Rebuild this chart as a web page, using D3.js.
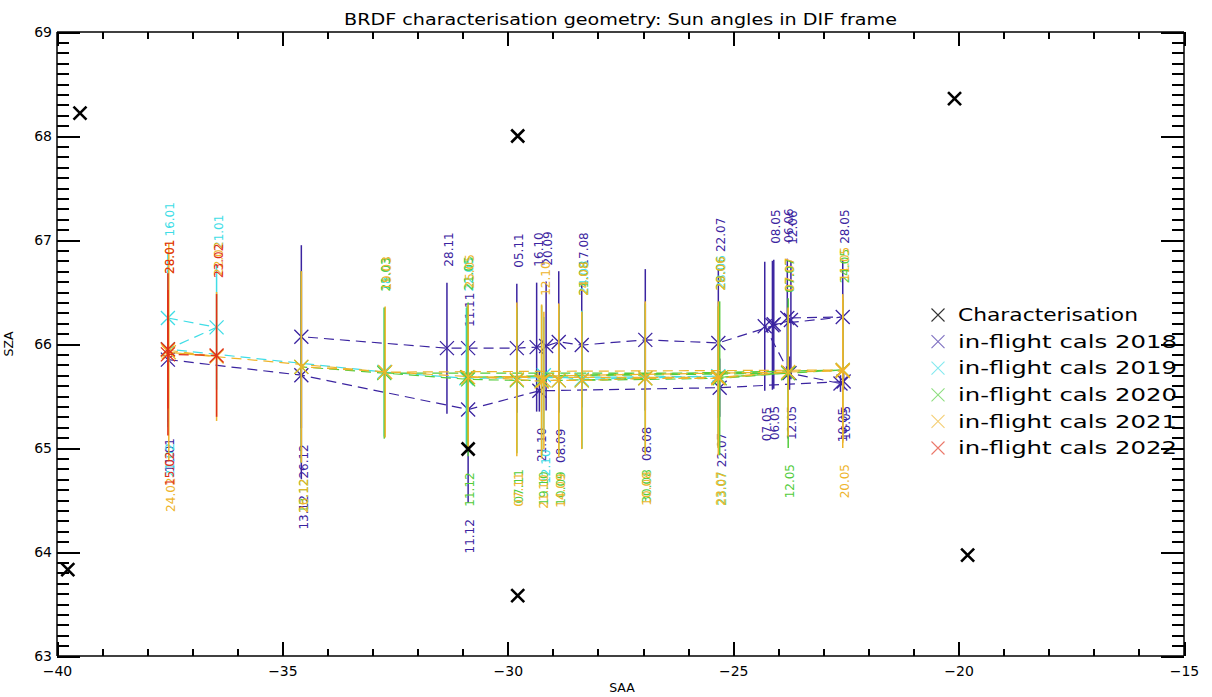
<!DOCTYPE html>
<html><head><meta charset="utf-8">
<script src="https://cdn.jsdelivr.net/npm/d3@7"></script>
<style>
body{margin:0;background:#fff;}
svg{display:block;}
text{font-family:"DejaVu Sans",sans-serif;}
</style>
</head><body>
<svg id="c" width="1212" height="697"></svg>
<script>
// ---------------- DATA ----------------
const titleText = "BRDF characterisation geometry: Sun angles in DIF frame";
const xLabel = "SAA";
const yLabel = "SZA";
const xTicksMajor = [-40, -35, -30, -25, -20, -15];
const yTicksMajor = [63, 64, 65, 66, 67, 68, 69];

// Characterisation geometry (black crosses)
const charSAA = [-39.49, -39.76, -29.78, -29.78, -30.88, -20.09, -19.80];
const charSZA = [68.22, 63.83, 68.00, 63.58, 64.99, 68.36, 63.97];

// in-flight cals 2018
const date2018 = ["11.01","13.12","11.12","21.10","22.07","16.05","10.05","12.05","07.05","06.05","08.05","28.05","06.06","12.06","22.07","08.08","17.08","08.09","20.09","16.10","05.11","11.11","28.11","26.12"];
const saa2018  = [-37.54,-34.58,-30.88,-29.30,-25.30,-22.55,-22.62,-23.75,-24.30,-24.13,-24.10,-22.57,-23.80,-23.72,-25.33,-26.95,-28.36,-28.87,-29.15,-29.36,-29.80,-30.88,-31.35,-34.58];
const sza2018  = [65.85,65.70,65.37,65.55,65.58,65.64,65.62,65.72,66.17,66.18,66.19,66.26,66.25,66.23,66.01,66.04,65.99,66.02,65.98,65.97,65.96,65.96,65.96,66.07];
const err2018  = [0.60,1.00,0.90,0.20,0.28,0.08,0.08,0.16,0.62,0.62,0.62,0.55,0.57,0.57,0.72,0.68,0.60,0.68,0.62,0.62,0.62,0.05,0.63,0.88];
const side2018 = ["b","b","b","b","b","b","b","b","b","b","t","t","t","t","t","b","t","b","t","t","t","t","t","b"];

// in-flight cals 2019
const date2019 = ["16.01","21.01","21.02","18.03","22.05","28.06","24.08","12.10"];
const saa2019  = [-37.54,-36.46,-37.54,-32.74,-30.92,-25.33,-28.36,-29.20];
const sza2019  = [66.25,66.16,65.95,65.73,65.67,65.69,65.66,65.70];
const err2019  = [0.63,0.60,0.75,0.62,0.68,0.68,0.66,0.56];
const side2019 = ["t","t","b","t","t","t","t","b"];

// in-flight cals 2020
const date2020 = ["21.03","12.05","21.05","24.05","29.06","07.07","23.07","21.08","30.08","10.09","19.10","07.11","11.12","13.12"];
const saa2020  = [-32.74,-23.78,-30.90,-22.57,-25.33,-23.78,-25.30,-28.36,-26.95,-28.87,-29.25,-29.80,-30.88,-34.58];
const sza2020  = [65.72,65.72,65.68,65.75,65.68,65.72,65.67,65.65,65.67,65.65,65.65,65.65,65.66,65.78];
const err2020  = [0.63,0.72,0.68,0.68,0.68,0.62,0.74,0.66,0.72,0.72,0.72,0.70,0.74,0.92];
const side2020 = ["t","b","t","t","t","t","b","t","b","b","b","b","b","b"];

// in-flight cals 2021
const date2021 = ["28.01","22.02","24.02","19.03","11.05","20.05","25.05","28.06","07.07","23.07","10.08","24.08","14.09","12.10","21.10","07.11","26.12"];
const saa2021  = [-37.54,-36.46,-37.52,-32.72,-22.57,-22.57,-30.88,-25.33,-23.78,-25.33,-26.95,-28.36,-28.87,-29.20,-29.25,-29.80,-34.58];
const sza2021  = [65.94,65.88,65.92,65.73,65.75,65.74,65.68,65.68,65.73,65.67,65.67,65.65,65.65,65.65,65.64,65.66,65.78];
const err2021  = [0.58,0.62,1.05,0.63,0.70,0.74,0.70,0.68,0.62,0.74,0.74,0.66,0.74,0.66,0.74,0.74,0.92];
const side2021 = ["t","t","b","t","t","b","t","t","t","b","b","t","b","t","b","b","b"];

// in-flight cals 2022
const date2022 = ["28.01","15.02","23.02"];
const saa2022  = [-37.54,-37.54,-36.46];
const sza2022  = [65.95,65.90,65.89];
const err2022  = [0.57,0.78,0.59];
const side2022 = ["t","b","t"];

const legendLabels = ["Characterisation","in-flight cals 2018","in-flight cals 2019","in-flight cals 2020","in-flight cals 2021","in-flight cals 2022"];
const seriesColors = ["#3b24a0","#40dde6","#52cc3c","#eeb42a","#e0301a"];

// ---------------- CHART ----------------
const svg = d3.select("#c");
const x = d3.scaleLinear().domain([-40, -15]).range([57, 1184]);
const y = d3.scaleLinear().domain([63, 69]).range([656, 32]);

const xMinor = d3.range(-40, -14, 1).filter(v => v % 5 !== 0);
const yMinor = d3.range(630, 691, 1).filter(v => v % 10 !== 0).map(v => v / 10);

// frame
const fr = svg.append("g").attr("stroke", "#000").attr("stroke-width", 1.5);
[[x(-40), y(63), x(-15), y(63)], [x(-40), y(69), x(-15), y(69)],
 [x(-40), y(63), x(-40), y(69)], [x(-15), y(63), x(-15), y(69)]].forEach(s =>
  fr.append("line").attr("x1", s[0]).attr("y1", s[1]).attr("x2", s[2]).attr("y2", s[3]));

// axes through d3 (ticks inward on all four sides)
function styleAxis(g) {
  g.select(".domain").remove();
  g.selectAll(".tick line").attr("stroke", "#000").attr("stroke-width", 2).attr("shape-rendering", "crispEdges");
  g.selectAll(".tick text").attr("fill", "#000").attr("font-size", 14)
    .attr("font-family", '"DejaVu Sans",sans-serif');
  return g;
}
function addAxis(gen, tx, ty) {
  return styleAxis(svg.append("g").attr("transform", `translate(${tx},${ty})`).call(gen));
}
addAxis(d3.axisBottom(x).tickValues(xTicksMajor).tickSizeInner(-14).tickSizeOuter(0).tickPadding(10).tickFormat(d3.format("d")), 0, y(63));
addAxis(d3.axisBottom(x).tickValues(xMinor).tickSizeInner(-7).tickSizeOuter(0).tickFormat(""), 0, y(63));
addAxis(d3.axisTop(x).tickValues(xTicksMajor).tickSizeInner(-14).tickSizeOuter(0).tickFormat(""), 0, y(69));
addAxis(d3.axisTop(x).tickValues(xMinor).tickSizeInner(-7).tickSizeOuter(0).tickFormat(""), 0, y(69));
addAxis(d3.axisLeft(y).tickValues(yTicksMajor).tickSizeInner(-23).tickSizeOuter(0).tickPadding(5).tickFormat(d3.format("d")), x(-40), 0);
addAxis(d3.axisLeft(y).tickValues(yMinor).tickSizeInner(-12).tickSizeOuter(0).tickFormat(""), x(-40), 0);
addAxis(d3.axisRight(y).tickValues(yTicksMajor).tickSizeInner(-23).tickSizeOuter(0).tickFormat(""), x(-15), 0);
addAxis(d3.axisRight(y).tickValues(yMinor).tickSizeInner(-12).tickSizeOuter(0).tickFormat(""), x(-15), 0);

// title & axis labels
svg.append("text").attr("x", (x(-40) + x(-15)) / 2).attr("y", 25).attr("text-anchor", "middle")
  .attr("font-size", 16.5).attr("textLength", 553).attr("lengthAdjust", "spacingAndGlyphs").text(titleText);
svg.append("text").attr("x", 622).attr("y", 692).attr("text-anchor", "middle").attr("font-size", 12.5).text(xLabel);
svg.append("text").attr("transform", "translate(13,344) rotate(-90)").attr("text-anchor", "middle").attr("font-size", 12.5).text(yLabel);

// series
const series = [
  {saa: saa2018, sza: sza2018, err: err2018, date: date2018, side: side2018},
  {saa: saa2019, sza: sza2019, err: err2019, date: date2019, side: side2019},
  {saa: saa2020, sza: sza2020, err: err2020, date: date2020, side: side2020},
  {saa: saa2021, sza: sza2021, err: err2021, date: date2021, side: side2021},
  {saa: saa2022, sza: sza2022, err: err2022, date: date2022, side: side2022}
];
const xPath = s => `M${-s},${-s}L${s},${s}M${-s},${s}L${s},${-s}`;
const gap = 16;

series.forEach((s, si) => {
  const col = seriesColors[si];
  const pts = s.saa.map((v, i) => ({x: v, y: s.sza[i], e: s.err[i], d: s.date[i], t: s.side[i]}));
  const g = svg.append("g");
  g.append("path").datum(pts)
    .attr("d", d3.line().x(p => x(p.x)).y(p => y(p.y)))
    .attr("fill", "none").attr("stroke", col).attr("stroke-width", 1.2).attr("stroke-dasharray", "10,6");
  g.selectAll("line.eb").data(pts).join("line").attr("class", "eb")
    .attr("x1", p => x(p.x)).attr("x2", p => x(p.x))
    .attr("y1", p => y(p.y + p.e)).attr("y2", p => y(p.y - p.e))
    .attr("stroke", col).attr("stroke-width", 1.5);
  g.selectAll("path.mk").data(pts).join("path").attr("class", "mk")
    .attr("transform", p => `translate(${x(p.x)},${y(p.y)})`)
    .attr("d", xPath(7)).attr("fill", "none").attr("stroke", col).attr("stroke-width", 1.3);
  g.selectAll("text.lb").data(pts).join("text").attr("class", "lb")
    .attr("transform", p => {
      const yy = p.t === "t" ? y(p.y + p.e) - gap : y(p.y - p.e) + gap;
      return `translate(${x(p.x) + 2},${yy}) rotate(-90)`;
    })
    .attr("text-anchor", p => p.t === "t" ? "start" : "end")
    .attr("dy", "0.35em").attr("font-size", 12).attr("fill", col)
    .text(p => p.d);
});

// characterisation crosses
svg.append("g").selectAll("path").data(charSAA.map((v, i) => [v, charSZA[i]])).join("path")
  .attr("transform", d => `translate(${x(d[0])},${y(d[1])})`)
  .attr("d", xPath(6.5)).attr("fill", "none").attr("stroke", "#000").attr("stroke-width", 2.6);

// legend
const lg = svg.append("g");
const legendCols = ["#333"].concat(seriesColors);
const legendWidths = [180, 219, 219, 219, 219, 219];
legendLabels.forEach((lab, i) => {
  const yy = 315 + i * 26.6;
  lg.append("path").attr("transform", `translate(938,${yy})`).attr("d", xPath(6.5))
    .attr("fill", "none").attr("stroke", legendCols[i]).attr("stroke-width", 1.1).attr("opacity", i === 0 ? 1 : 0.65);
  lg.append("text").attr("x", 958).attr("y", yy).attr("dy", "0.36em").attr("font-size", 17)
    .attr("textLength", legendWidths[i]).attr("lengthAdjust", "spacingAndGlyphs").attr("fill", "#000").text(lab);
});
</script>
</body></html>
